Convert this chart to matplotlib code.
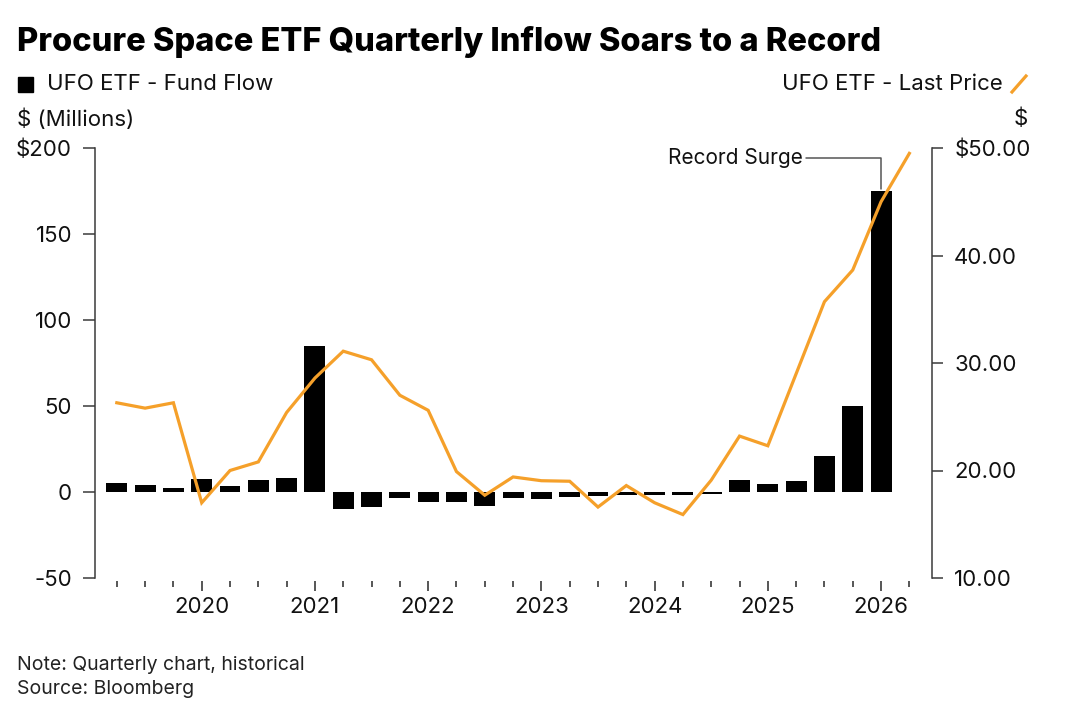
import matplotlib.pyplot as plt
import numpy as np

# quarterly data, 2019 Q2 through 2026 Q2
quarters = ["2019Q2", "2019Q3", "2019Q4", "2020Q1", "2020Q2", "2020Q3", "2020Q4",
            "2021Q1", "2021Q2", "2021Q3", "2021Q4", "2022Q1", "2022Q2", "2022Q3",
            "2022Q4", "2023Q1", "2023Q2", "2023Q3", "2023Q4", "2024Q1", "2024Q2",
            "2024Q3", "2024Q4", "2025Q1", "2025Q2", "2025Q3", "2025Q4", "2026Q1",
            "2026Q2"]

# fund flow in $ millions (no bar for the last quarter)
fund_flow = [5.5, 3.8, 2.3, 7.3, 3.5, 7.2, 8.1, 85, -10, -9, -3.5, -5.6, -6.0, -8,
             -3.5, -4.1, -3.1, -2.5, -1.7, -1.7, -1.7, -1.3, 7.2, 4.6, 6.6, 21, 50, 175]

# last price in $
last_price = [26.3, 25.8, 26.3, 17.0, 20.0, 20.8, 25.4, 28.6, 31.1, 30.3, 27.0, 25.6,
              19.9, 17.7, 19.4, 19.05, 19.0, 16.6, 18.6, 17.0, 15.9, 19.1, 23.2, 22.3,
              29.0, 35.7, 38.65, 45.0, 49.5]

year_labels = ["2020", "2021", "2022", "2023", "2024", "2025", "2026"]
year_idx = [3, 7, 11, 15, 19, 23, 27]

left_ticks = [-50, 0, 50, 100, 150, 200]
left_labels = ["-50", "0", "50", "100", "150", "$200"]
right_ticks = [10, 20, 30, 40, 50]
right_labels = ["10.00", "20.00", "30.00", "40.00", "$50.00"]

orange = '#F5A02A'
spine_col = '#3a3a3a'
txt_col = '#111111'
fs = 16
plt.rcParams['font.family'] = ['Inter', 'DejaVu Sans']

fig = plt.figure(figsize=(10.8, 7.16), dpi=100)
ax = fig.add_axes([95/1080, 1 - 578/716, (932-95)/1080, (578-148)/716])
ax2 = ax.twinx()

x = np.arange(len(quarters))
ax.bar(x[:len(fund_flow)], fund_flow, width=0.74, color='black', zorder=2)
ax2.plot(x, last_price, color=orange, lw=2.3, solid_joinstyle='miter', zorder=3)

ax.set_xlim(-0.77, 28.8)
ax.set_ylim(-50, 200)
ax2.set_ylim(10, 50)

# spines
for a in (ax, ax2):
    for s in ('top', 'bottom'):
        a.spines[s].set_visible(False)
ax.spines['right'].set_visible(False)
ax2.spines['left'].set_visible(False)
ax.spines['left'].set_color(spine_col)
ax.spines['left'].set_linewidth(1.1)
ax2.spines['right'].set_color(spine_col)
ax2.spines['right'].set_linewidth(1.1)

ax.set_yticks(left_ticks)
ax.set_yticklabels(left_labels)
ax.tick_params(axis='y', direction='out', length=8.5, width=1.1, color=spine_col,
               pad=8, labelsize=fs, labelcolor=txt_col)
ax2.set_yticks(right_ticks)
ax2.set_yticklabels(right_labels)
ax2.tick_params(axis='y', direction='out', length=8, width=1.1, color=spine_col,
                pad=8, labelsize=fs, labelcolor=txt_col)

# quarter ticks, longer ones at each year
ax.spines['bottom'].set_position(('outward', 2.5))
ax.set_xticks(year_idx)
ax.set_xticklabels(year_labels)
ax.set_xticks([i for i in x if i not in year_idx], minor=True)
ax.tick_params(axis='x', which='major', length=7, width=1.2, color=spine_col,
               pad=4.5, labelsize=fs, labelcolor=txt_col)
ax.tick_params(axis='x', which='minor', length=4.5, width=1.2, color=spine_col)

# annotation for the record bar
last = len(fund_flow) - 1
ax.annotate("Record Surge", xy=(last, fund_flow[last] + 1), xytext=(last - 2.75, 194),
            fontsize=15, color=txt_col, ha='right', va='center',
            arrowprops=dict(arrowstyle='-', color='#555555', lw=1.1,
                            connectionstyle='angle,angleA=0,angleB=90,rad=0',
                            shrinkA=0, shrinkB=0))

# title, legend, units, notes
fig.text(17/1080, 1 - 42/716, "Procure Space ETF Quarterly Inflow Soars to a Record",
         fontsize=23.5, fontweight='heavy', va='center', ha='left', color='black')
fig.patches.append(plt.Rectangle((18/1080, 1 - 92/716), 15/1080, 15/716,
                                 transform=fig.transFigure, color='black'))
fig.text(47/1080, 1 - 84/716, "UFO ETF - Fund Flow", fontsize=fs, va='center',
         ha='left', color=txt_col)
fig.text(1003/1080, 1 - 84/716, "UFO ETF - Last Price", fontsize=fs, va='center',
         ha='right', color=txt_col)
fig.add_artist(plt.Line2D([1012/1080, 1026/1080], [1 - 92/716, 1 - 76/716],
                          color=orange, lw=2.3))
fig.text(17/1080, 1 - 119/716, "$ (Millions)", fontsize=fs, va='center',
         ha='left', color=txt_col)
fig.text(1028/1080, 1 - 119/716, "$", fontsize=fs, va='center', ha='right',
         color=txt_col)
fig.text(17/1080, 1 - 665/716, "Note: Quarterly chart, historical", fontsize=14,
         va='center', ha='left', color='#222222')
fig.text(17/1080, 1 - 689/716, "Source: Bloomberg", fontsize=14, va='center',
         ha='left', color='#222222')

fig.savefig('out.png', dpi=100)
